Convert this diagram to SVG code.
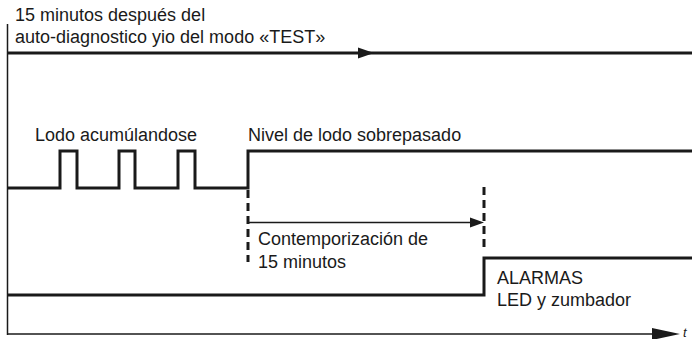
<svg xmlns="http://www.w3.org/2000/svg" width="692" height="339" viewBox="0 0 692 339">
<defs>
<style>
text{font-family:"Liberation Sans",Arial,sans-serif;font-size:18px;fill:#1a1a1a}
.sig{fill:none;stroke:#1a1a1a;stroke-width:3}
.thin{fill:none;stroke:#1a1a1a;stroke-width:1.5}
.dash{fill:none;stroke:#1a1a1a;stroke-width:3;stroke-dasharray:8 5}
.head{fill:#1a1a1a}
</style>
</defs>
<rect width="692" height="339" fill="#fff"/>
<g id="connectors">
<line class="thin" x1="7.5" y1="24" x2="7.5" y2="335"/>
<line class="thin" x1="7" y1="334" x2="656" y2="334"/>
<polygon class="head" points="652,328 680,334 652,340"/>
<line class="sig" x1="7" y1="53" x2="692" y2="53"/>
<polygon class="head" points="358,47.5 374,53 358,58.5"/>
<line class="dash" x1="248" y1="190" x2="248" y2="262"/>
<line class="dash" x1="484" y1="187" x2="484" y2="250"/>
<line class="thin" x1="249" y1="222.5" x2="472" y2="222.5"/>
<polygon class="head" points="470,217.5 484,222.5 470,227.5"/>
</g>
<g id="signal-lodo">
<polyline class="sig" points="7,188 60,188 60,151 77,151 77,188 119,188 119,151 135,151 135,188 178,188 178,151 195,151 195,188 248,188 248,151 692,151"/>
</g>
<g id="signal-alarma">
<polyline class="sig" points="7,295 484,295 484,258 692,258"/>
</g>
<g id="labels">
<text x="15" y="21">15 minutos después del</text>
<text x="15" y="43">auto-diagnostico yio del modo «TEST»</text>
<text x="35" y="141">Lodo acumúlandose</text>
<text x="248" y="141">Nivel de lodo sobrepasado</text>
<text x="258" y="245">Contemporización de</text>
<text x="258" y="268">15 minutos</text>
<text x="497" y="284">ALARMAS</text>
<text x="497" y="306">LED y zumbador</text>
<text x="683" y="337" style="font-style:italic;font-size:13px">t</text>
</g>
</svg>
